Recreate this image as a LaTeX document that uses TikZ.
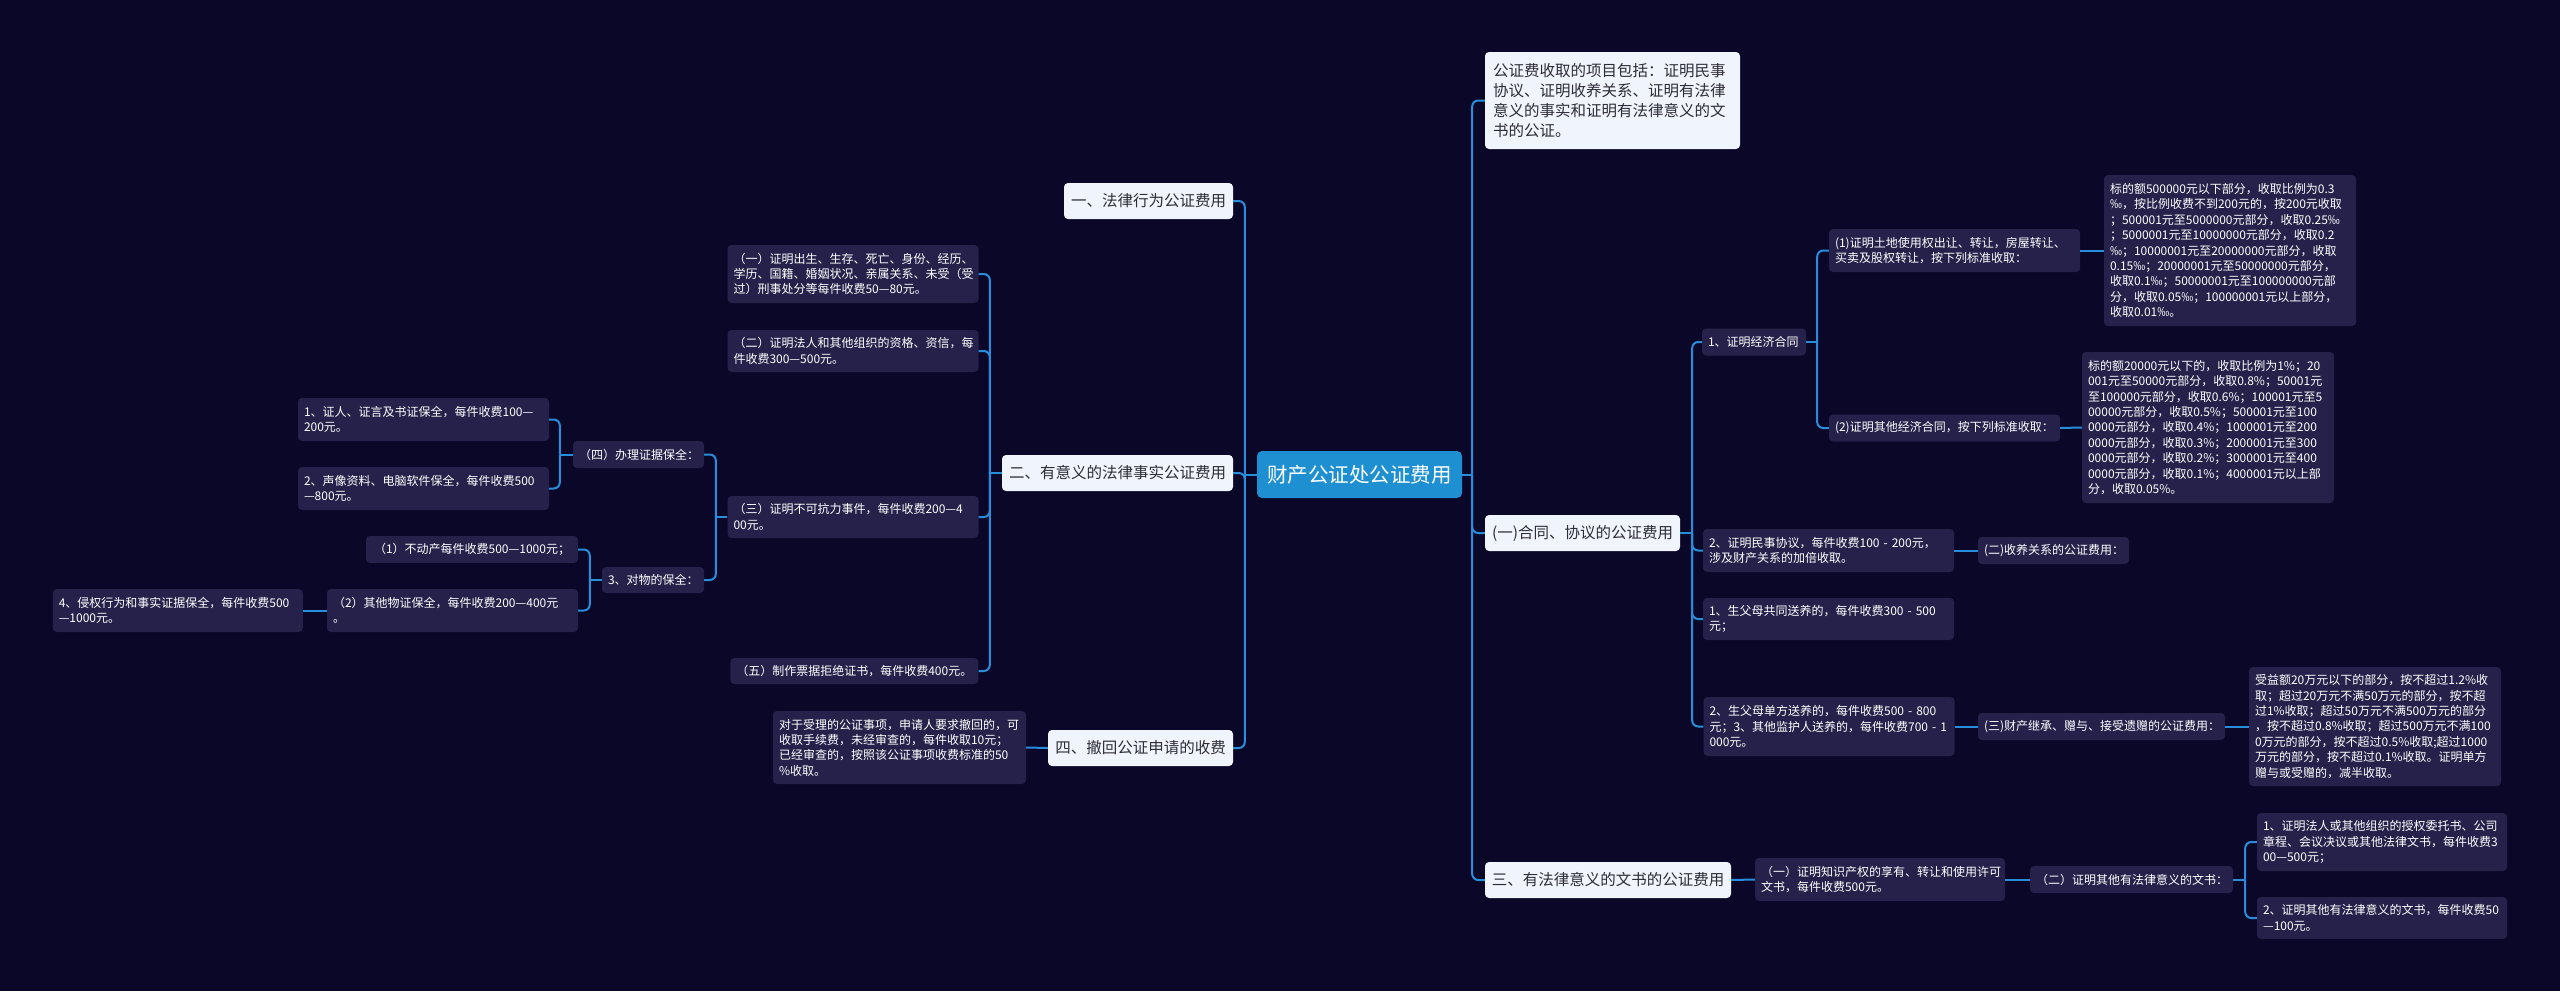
\documentclass[tikz,border=0pt]{standalone}
\usepackage{fontspec}
\setmainfont{Noto Sans CJK SC}
\definecolor{bg}{RGB}{11,7,41}
\definecolor{leaffill}{RGB}{38,33,74}
\definecolor{wfill}{RGB}{240,244,252}
\definecolor{rootfill}{RGB}{30,144,210}
\definecolor{lnk}{RGB}{40,142,220}
\definecolor{wtext}{RGB}{45,45,55}
\begin{document}
\begin{tikzpicture}[x=1pt,y=-1pt,
 conn/.style={draw=lnk,line width=2pt,rounded corners=6pt},
 leaf/.style={fill=leaffill,rounded corners=4pt,text=white,font=\fontsize{12}{15.4}\selectfont,align=left,inner xsep=6pt,inner ysep=0pt},
 wbox/.style={fill=wfill,rounded corners=4pt,text=wtext,font=\fontsize{15.5}{20}\selectfont,align=center,inner xsep=0pt,inner ysep=0pt},
 rootbox/.style={fill=rootfill,rounded corners=5pt,text=white,font=\fontsize{20.5}{24}\selectfont,align=center,inner sep=0pt}]
\fill[bg] (0,0) rectangle (2560,991);
\useasboundingbox (0,0) rectangle (2560,991);

% root
\node[rootbox,minimum width=205pt,minimum height=47pt] (root) at (1359.5,474.5) {财产公证处公证费用};

% right side level 1
\node[wbox,align=left,text width=239pt,inner xsep=8pt,minimum height=97pt] (top) at (1612.5,100.5) {公证费收取的项目包括：证明民事\\协议、证明收养关系、证明有法律\\意义的事实和证明有法律意义的文\\书的公证。};
\node[wbox,minimum width=195pt,minimum height=36pt] (he) at (1582.5,533) {(一)合同、协议的公证费用};
\node[wbox,minimum width=246pt,minimum height=36pt] (san) at (1608,880) {三、有法律意义的文书的公证费用};

% left side level 1
\node[wbox,minimum width=169pt,minimum height=36pt] (yi) at (1148.5,201) {一、法律行为公证费用};
\node[wbox,minimum width=231pt,minimum height=36pt] (er) at (1117.5,473) {二、有意义的法律事实公证费用};
\node[wbox,minimum width=185pt,minimum height=36pt] (si) at (1140.5,748) {四、撤回公证申请的收费};

% right leaves
\node[leaf,text width=92pt,minimum height=27pt] (jj) at (1754,342) {1、证明经济合同};
\node[leaf,text width=239pt,minimum height=43pt] (td) at (1954.5,250.5) {(1)证明土地使用权出让、转让，房屋转让、\\买卖及股权转让，按下列标准收取：};
\node[leaf,text width=240pt,minimum height=151pt] (big1) at (2230,250.5) {标的额500000元以下部分，收取比例为0.3\\‰，按比例收费不到200元的，按200元收取\\；500001元至5000000元部分，收取0.25‰\\；5000001元至10000000元部分，收取0.2\\‰；10000001元至20000000元部分，收取\\0.15‰；20000001元至50000000元部分，\\收取0.1‰；50000001元至100000000元部\\分，收取0.05‰；100000001元以上部分，\\收取0.01‰。};
\node[leaf,text width=219pt,minimum height=27pt] (qt) at (1944.5,428) {(2)证明其他经济合同，按下列标准收取：};
\node[leaf,text width=240pt,minimum height=151pt] (big2) at (2208,427.5) {标的额20000元以下的，收取比例为1\%；20\\001元至50000元部分，收取0.8\%；50001元\\至100000元部分，收取0.6\%；100001元至5\\00000元部分，收取0.5\%；500001元至100\\0000元部分，收取0.4\%；1000001元至200\\0000元部分，收取0.3\%；2000001元至300\\0000元部分，收取0.2\%；3000001元至400\\0000元部分，收取0.1\%；4000001元以上部\\分，收取0.05\%。};
\node[leaf,text width=239pt,minimum height=43pt] (ms) at (1828.5,550.5) {2、证明民事协议，每件收费100 - 200元，\\涉及财产关系的加倍收取。};
\node[leaf,text width=139pt,minimum height=27pt] (sy) at (2053.5,550.5) {(二)收养关系的公证费用：};
\node[leaf,text width=239pt,minimum height=42pt] (gt) at (1828.5,619) {1、生父母共同送养的，每件收费300 - 500\\元；};
\node[leaf,text width=239pt,minimum height=59pt] (df) at (1829,726.5) {2、生父母单方送养的，每件收费500 - 800\\元；3、其他监护人送养的，每件收费700 - 1\\000元。};
\node[leaf,text width=235pt,minimum height=27pt] (cj) at (2101.5,726.5) {(三)财产继承、赠与、接受遗赠的公证费用：};
\node[leaf,text width=240pt,minimum height=119pt] (big3) at (2375,726.5) {受益额20万元以下的部分，按不超过1.2\%收\\取；超过20万元不满50万元的部分，按不超\\过1\%收取；超过50万元不满500万元的部分\\，按不超过0.8\%收取；超过500万元不满100\\0万元的部分，按不超过0.5\%收取;超过1000\\万元的部分，按不超过0.1\%收取。证明单方\\赠与或受赠的，减半收取。};
\node[leaf,text width=238pt,minimum height=43pt] (zs) at (1880,879.5) {（一）证明知识产权的享有、转让和使用许可\\文书，每件收费500元。};
\node[leaf,text width=191pt,minimum height=27pt] (qtw) at (2131.5,879.5) {（二）证明其他有法律意义的文书：};
\node[leaf,text width=238pt,minimum height=58pt] (fa) at (2382,842) {1、证明法人或其他组织的授权委托书、公司\\章程、会议决议或其他法律文书，每件收费3\\00—500元；};
\node[leaf,text width=238pt,minimum height=42pt] (qy) at (2382,918) {2、证明其他有法律意义的文书，每件收费50\\—100元。};

% left leaves
\node[leaf,text width=239pt,minimum height=58pt] (c1) at (853,274) {（一）证明出生、生存、死亡、身份、经历、\\学历、国籍、婚姻状况、亲属关系、未受（受\\过）刑事处分等每件收费50—80元。};
\node[leaf,text width=239pt,minimum height=42pt] (c2) at (853,351) {（二）证明法人和其他组织的资格、资信，每\\件收费300—500元。};
\node[leaf,text width=239pt,minimum height=42pt] (c3) at (853,517) {（三）证明不可抗力事件，每件收费200—4\\00元。};
\node[leaf,text width=236pt,minimum height=26pt,align=center] (c5) at (854.3,671) {（五）制作票据拒绝证书，每件收费400元。};
\node[leaf,text width=119pt,minimum height=27pt,align=center] (bq) at (638.5,454.5) {（四）办理证据保全：};
\node[leaf,text width=90pt,minimum height=26pt] (dw) at (653,580) {3、对物的保全：};
\node[leaf,text width=239pt,minimum height=43pt] (w1) at (423.5,419.5) {1、证人、证言及书证保全，每件收费100—\\200元。};
\node[leaf,text width=239pt,minimum height=43pt] (w2) at (423.5,488.5) {2、声像资料、电脑软件保全，每件收费500\\—800元。};
\node[leaf,text width=200pt,minimum height=27pt,align=center] (bd) at (472,549.5) {（1）不动产每件收费500—1000元；};
\node[leaf,text width=239pt,minimum height=43pt] (o2) at (452.5,610.5) {（2）其他物证保全，每件收费200—400元\\。};
\node[leaf,text width=238pt,minimum height=43pt] (q4) at (177.75,610.5) {4、侵权行为和事实证据保全，每件收费500\\—1000元。};
\node[leaf,text width=241pt,minimum height=73pt] (ch) at (899.5,747.5) {对于受理的公证事项，申请人要求撤回的，可\\收取手续费，未经审查的，每件收取10元；\\已经审查的，按照该公证事项收费标准的50\\\%收取。};

% connectors right
\draw[conn] (root.east) -- ++(10,0) coordinate (rR);
\draw[conn] (rR) |- (top.west);
\draw[conn] (rR) |- (he.west);
\draw[conn] (rR) |- (san.west);
\draw[conn] (he.east) -- ++(12,0) coordinate (heR);
\draw[conn] (heR) |- (jj.west);
\draw[conn] (heR) |- (ms.west);
\draw[conn] (heR) |- (gt.west);
\draw[conn] (heR) |- (df.west);
\draw[conn] (jj.east) -- ++(11,0) coordinate (jjR);
\draw[conn] (jjR) |- (td.west);
\draw[conn] (jjR) |- (qt.west);
\draw[conn] (td.east) -- (big1.west);
\draw[conn] (qt.east) -- (big2.west);
\draw[conn] (ms.east) -- (sy.west);
\draw[conn] (df.east) -- (cj.west);
\draw[conn] (cj.east) -- (big3.west);
\draw[conn] (san.east) -- (zs.west);
\draw[conn] (zs.east) -- (qtw.west);
\draw[conn] (qtw.east) -- ++(12,0) coordinate (qtwR);
\draw[conn] (qtwR) |- (fa.west);
\draw[conn] (qtwR) |- (qy.west);

% connectors left
\draw[conn] (root.west) -- ++(-12,0) coordinate (rL);
\draw[conn] (rL) |- (yi.east);
\draw[conn] (rL) |- (er.east);
\draw[conn] (rL) |- (si.east);
\draw[conn] (er.west) -- ++(-12,0) coordinate (erL);
\draw[conn] (erL) |- (c1.east);
\draw[conn] (erL) |- (c2.east);
\draw[conn] (erL) |- (c3.east);
\draw[conn] (erL) |- (c5.east);
\draw[conn] (c3.west) -- ++(-11.5,0) coordinate (c3L);
\draw[conn] (c3L) |- (bq.east);
\draw[conn] (c3L) |- (dw.east);
\draw[conn] (bq.west) -- ++(-13,0) coordinate (bqL);
\draw[conn] (bqL) |- (w1.east);
\draw[conn] (bqL) |- (w2.east);
\draw[conn] (dw.west) -- ++(-12,0) coordinate (dwL);
\draw[conn] (dwL) |- (bd.east);
\draw[conn] (dwL) |- (o2.east);
\draw[conn] (o2.west) -- (q4.east);
\draw[conn] (si.west) -- (ch.east);
\end{tikzpicture}
\end{document}
